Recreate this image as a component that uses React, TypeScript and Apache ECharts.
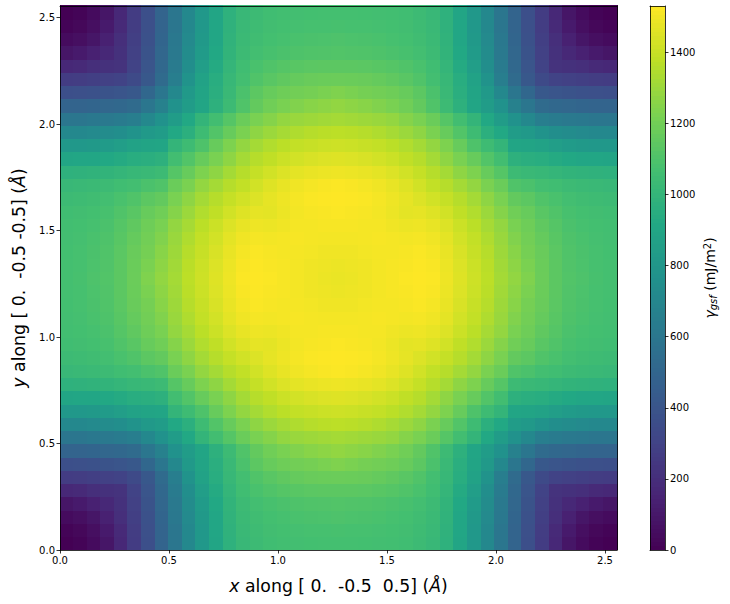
import React, { useEffect, useRef } from "react";
import * as echarts from "echarts";

const axisMax = 2.555;
const xyTicks = [0, 0.5, 1, 1.5, 2, 2.5];
const barTicks = [0, 200, 400, 600, 800, 1000, 1200, 1400];
const barMax = 1530;
const barLevels = 128;
const viridis = ["#440154", "#482475", "#414487", "#355f8d", "#2a788e", "#21918c", "#22a884", "#44bf70", "#7ad151", "#bddf26", "#fde725"];

// Energies: each row starts on the diagonal of the lower-left quadrant
// and runs towards the vertical centre line.
const r00 = [0, 15, 45, 90, 170, 270, 370, 490, 600, 710, 810, 900, 975, 1020, 1040, 1055, 1062, 1066, 1068, 1070, 1070];
const r01 = [30, 60, 110, 180, 272, 372, 492, 602, 712, 812, 903, 980, 1024, 1045, 1060, 1068, 1073, 1076, 1078, 1080];
const r02 = [90, 140, 205, 280, 380, 498, 610, 720, 820, 908, 985, 1030, 1052, 1068, 1078, 1085, 1090, 1093, 1098];
const r03 = [170, 215, 290, 390, 505, 618, 732, 830, 918, 992, 1040, 1065, 1080, 1092, 1100, 1105, 1108, 1110];
const r04 = [225, 300, 400, 515, 630, 745, 850, 930, 1005, 1055, 1085, 1105, 1118, 1128, 1135, 1138, 1140];
const r05 = [340, 420, 530, 650, 780, 875, 950, 1015, 1065, 1105, 1130, 1150, 1165, 1175, 1180, 1182];
const r06 = [510, 600, 710, 815, 890, 960, 1025, 1090, 1140, 1170, 1190, 1200, 1210, 1225, 1235];
const r07 = [670, 770, 840, 900, 970, 1040, 1105, 1160, 1195, 1220, 1240, 1255, 1268, 1278];
const r08 = [840, 920, 1000, 1060, 1120, 1180, 1220, 1250, 1280, 1295, 1305, 1313, 1320];
const r09 = [965, 1045, 1110, 1170, 1225, 1270, 1300, 1325, 1345, 1360, 1370, 1375];
const r10 = [1100, 1170, 1230, 1280, 1320, 1350, 1372, 1392, 1402, 1410, 1415];
const r11 = [1220, 1270, 1320, 1360, 1385, 1410, 1428, 1442, 1450, 1455];
const r12 = [1320, 1360, 1395, 1425, 1450, 1470, 1482, 1490, 1495];
const r13 = [1390, 1425, 1455, 1480, 1500, 1512, 1520, 1525];
const r14 = [1450, 1475, 1495, 1512, 1522, 1528, 1530];
const r15 = [1470, 1490, 1505, 1515, 1520, 1525];
const r16 = [1500, 1510, 1512, 1515, 1515];
const r17 = [1515, 1510, 1508, 1508];
const r18 = [1505, 1500, 1500];
const r19 = [1495, 1490];
const r20 = [1485];
const triangle = [r00, r01, r02, r03, r04, r05, r06, r07, r08, r09, r10, r11, r12, r13, r14, r15, r16, r17, r18, r19, r20];

// The picture repeats this triangle mirrored about its diagonal and its centre lines.
const cellCount = triangle.length * 2 - 1;
const cellSize = axisMax / cellCount;
const fold = (k: number) => Math.min(k, cellCount - 1 - k);
const cells: number[][] = [];
for (let j = 0; j < cellCount; j++) {
  for (let i = 0; i < cellCount; i++) {
    const a = fold(i);
    const b = fold(j);
    cells.push([i * cellSize, j * cellSize, triangle[Math.min(a, b)][Math.abs(a - b)]]);
  }
}
const barCells: number[][] = [];
for (let k = 0; k < barLevels; k++) {
  const step = barMax / barLevels;
  barCells.push([0, k * step, (k + 0.5) * step, step]);
}

const font = "DejaVu Sans";
const tickStyle = { show: true, length: 3.5, lineStyle: { color: "#000", width: 0.8 } };
const lineStyle = { show: true, onZero: false, lineStyle: { color: "#000", width: 0.8 } };
const labelStyle = { color: "#000", fontSize: 10, fontFamily: font, margin: 5 };

const renderHeat = (_: any, api: any) => {
  const a = api.coord([api.value(0), api.value(1)]);
  const b = api.coord([api.value(0) + cellSize, api.value(1) + cellSize]);
  const x = Math.floor(a[0]);
  const y = Math.floor(b[1]);
  return {
    type: "rect",
    shape: { x, y, width: Math.ceil(b[0]) - x, height: Math.ceil(a[1]) - y },
    style: { fill: api.visual("color") },
  };
};
const renderBar = (_: any, api: any) => {
  const a = api.coord([0, api.value(1)]);
  const b = api.coord([1, api.value(1) + api.value(3)]);
  const y = Math.floor(b[1]);
  return {
    type: "rect",
    shape: { x: a[0], y, width: b[0] - a[0], height: Math.ceil(a[1]) - y },
    style: { fill: api.visual("color") },
  };
};

const bare = { type: "value", z: 5, axisTick: { show: false }, axisLabel: { show: false }, splitLine: { show: false }, axisLine: lineStyle };
const mathRich = {
  i: { fontFamily: font, fontStyle: "italic", fontSize: 17.3, color: "#000" },
  t: { fontFamily: font, fontSize: 17.3, color: "#000" },
};
const barRich = {
  i: { fontFamily: font, fontStyle: "italic", fontSize: 14, color: "#000" },
  s: { fontFamily: font, fontStyle: "italic", fontSize: 10, color: "#000", verticalAlign: "bottom", padding: [6, 0, 0, 0] },
  t: { fontFamily: font, fontSize: 14, color: "#000" },
  u: { fontFamily: font, fontSize: 10, color: "#000", verticalAlign: "top", padding: [0, 0, 6, 0] },
};

export default function App() {
  const ref = useRef<HTMLDivElement>(null);
  useEffect(() => {
    document.body.style.margin = "0";
    const chart = echarts.init(ref.current!, null, { renderer: "svg" });
    chart.setOption({
      animation: false,
      backgroundColor: "#fff",
      grid: [
        { left: 60, top: 6, width: 557, height: 544 },
        { left: 650, top: 6, width: 15, height: 544 },
      ],
      xAxis: [
        {
          type: "value", gridIndex: 0, position: "bottom", min: 0, max: axisMax, z: 5,
          splitLine: { show: false }, axisLine: lineStyle,
          axisTick: { ...tickStyle, customValues: xyTicks },
          axisLabel: { ...labelStyle, customValues: xyTicks, formatter: (v: number) => v.toFixed(1) },
          name: "{i|x}{t| along [ 0.  -0.5  0.5] (}{i|Å}{t|)}",
          nameLocation: "middle", nameGap: 27, nameTextStyle: { rich: mathRich },
        },
        { ...bare, gridIndex: 0, position: "top", min: 0, max: axisMax },
        { ...bare, gridIndex: 1, position: "bottom", min: 0, max: 1 },
        { ...bare, gridIndex: 1, position: "top", min: 0, max: 1 },
      ],
      yAxis: [
        {
          type: "value", gridIndex: 0, position: "left", min: 0, max: axisMax, z: 5,
          splitLine: { show: false }, axisLine: lineStyle,
          axisTick: { ...tickStyle, customValues: xyTicks },
          axisLabel: { ...labelStyle, customValues: xyTicks, formatter: (v: number) => v.toFixed(1) },
          name: "{i|y}{t| along [ 0.  -0.5 -0.5] (}{i|Å}{t|)}",
          nameLocation: "middle", nameGap: 33, nameRotate: 90, nameTextStyle: { rich: mathRich },
        },
        { ...bare, gridIndex: 0, position: "right", min: 0, max: axisMax },
        {
          type: "value", gridIndex: 1, position: "right", min: 0, max: barMax, z: 5,
          splitLine: { show: false }, axisLine: lineStyle,
          axisTick: { ...tickStyle, customValues: barTicks },
          axisLabel: { ...labelStyle, customValues: barTicks, formatter: (v: number) => String(v) },
          name: "{i|γ}{s|gsf}{t| (mJ/m}{u|2}{t|)}",
          nameLocation: "middle", nameGap: 37, nameRotate: 90, nameTextStyle: { rich: barRich },
        },
        { ...bare, gridIndex: 1, position: "left", min: 0, max: barMax },
      ],
      visualMap: [
        { show: false, type: "continuous", min: 0, max: barMax, dimension: 2, seriesIndex: [0, 1], inRange: { color: viridis } },
      ],
      series: [
        { type: "custom", xAxisIndex: 0, yAxisIndex: 0, z: 1, silent: true, renderItem: renderHeat, encode: { x: 0, y: 1 }, data: cells },
        { type: "custom", xAxisIndex: 2, yAxisIndex: 2, z: 1, silent: true, renderItem: renderBar, encode: { x: 0, y: 1 }, data: barCells },
      ],
    });
    return () => chart.dispose();
  }, []);
  return <div ref={ref} style={{ width: 730, height: 604 }} />;
}
